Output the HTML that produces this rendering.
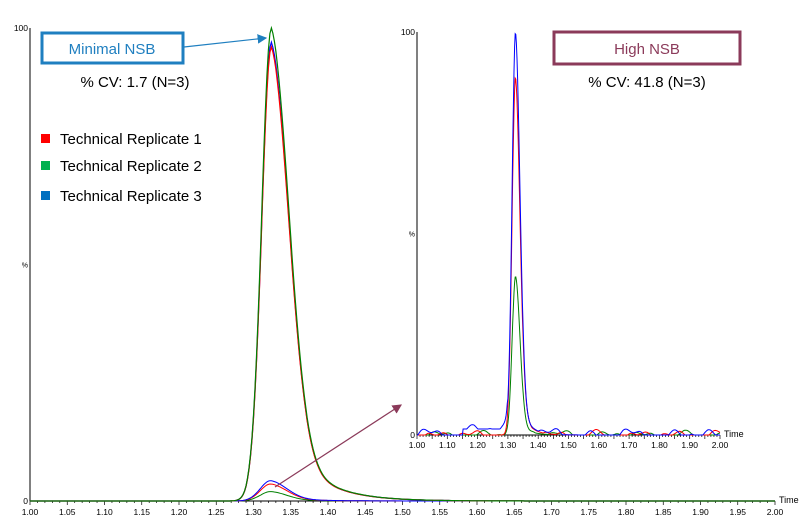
<!DOCTYPE html>
<html><head><meta charset="utf-8"><style>
body{margin:0;background:#fff;width:812px;height:524px;overflow:hidden;font-family:"Liberation Sans",sans-serif}
svg{position:absolute;left:0;top:0}
</style></head><body>
<svg id="s" width="812" height="524" xmlns="http://www.w3.org/2000/svg" font-family="Liberation Sans, sans-serif">
<defs>
<marker id="ab" markerWidth="8" markerHeight="8" refX="7" refY="4" orient="auto"><path d="M0,0 L8,4 L0,8 z" fill="#1f7fc0"/></marker>
<marker id="am" markerWidth="8" markerHeight="8" refX="7" refY="4" orient="auto"><path d="M0,0 L8,4 L0,8 z" fill="#8b3a5a"/></marker>
</defs>
<g id="g"></g>
<rect x="42" y="33" width="141" height="30" fill="#fff" stroke="#1f7fc0" stroke-width="3"/>
<text x="112" y="54" font-size="15" fill="#1f7fc0" text-anchor="middle">Minimal NSB</text>
<line x1="184" y1="47" x2="266" y2="38" stroke="#1f7fc0" stroke-width="1.2" marker-end="url(#ab)"/>
<text x="135" y="87" font-size="15" text-anchor="middle">% CV: 1.7 (N=3)</text>
<rect x="554" y="32" width="186" height="32" fill="#fff" stroke="#8b3a5a" stroke-width="3"/>
<text x="647" y="54" font-size="15" fill="#8b3a5a" text-anchor="middle">High NSB</text>
<text x="647" y="87" font-size="15" text-anchor="middle">% CV: 41.8 (N=3)</text>
<line x1="275" y1="487" x2="401" y2="405" stroke="#8b3a5a" stroke-width="1.2" marker-end="url(#am)"/>
<rect x="41" y="134" width="9" height="9" fill="#ff0000"/><text x="60" y="144" font-size="15">Technical Replicate 1</text>
<rect x="41" y="161" width="9" height="9" fill="#00b050"/><text x="60" y="171" font-size="15">Technical Replicate 2</text>
<rect x="41" y="191" width="9" height="9" fill="#0070c0"/><text x="60" y="201" font-size="15">Technical Replicate 3</text>
</svg>
<script>
var g=document.getElementById('g'),h='';
function pk(t,c,sl,sr,w,tau){var d=t-c;if(d<0)return Math.exp(-d*d/(2*sl*sl));return (1-w)*Math.exp(-d*d/(2*sr*sr))+w*Math.exp(-d/tau);}
function path(X0,XW,Y0,YH,f,col,wd){var p='';for(var i=0;i<=500;i++){var t=1+i/500;var v=f(t);p+=(i?'L':'M')+(X0+(t-1)*XW).toFixed(1)+','+(Y0-v/100*YH).toFixed(1);}h+='<path d="'+p+'" fill="none" stroke="'+col+'" stroke-width="'+(wd||1.2)+'"/>';}
function axes(X0,XW,Y0,YT,fs,ly,labStep){h+='<line x1="'+X0+'" y1="'+YT+'" x2="'+X0+'" y2="'+Y0+'" stroke="#000"/>';h+='<line x1="'+X0+'" y1="'+Y0+'" x2="'+(X0+XW)+'" y2="'+Y0+'" stroke="#000"/>';
for(var i=0;i<=100;i++){var x=X0+i/100*XW;var big=i%5==0;h+='<line x1="'+x+'" y1="'+Y0+'" x2="'+x+'" y2="'+(Y0+(big?4:2))+'" stroke="#000" stroke-width="0.7"/>';
if(i%labStep==0)h+='<text x="'+x+'" y="'+ly+'" font-size="'+fs+'" text-anchor="middle">'+(1+i/100).toFixed(2)+'</text>';}
h+='<text x="'+(X0-2)+'" y="'+(YT+3)+'" font-size="'+fs+'" text-anchor="end">100</text><text x="'+(X0-2)+'" y="'+(Y0+3)+'" font-size="'+fs+'" text-anchor="end">0</text><text x="'+(X0-2)+'" y="'+((YT+Y0)/2+3)+'" font-size="7" text-anchor="end">%</text><text x="'+(X0+XW+4)+'" y="'+(Y0+2)+'" font-size="9">Time</text>';}
var X0=30,XW=745,Y0=501,YH=473;
axes(X0,XW,Y0,28,8.5,515,5);
function m(a){return function(t){return a*pk(t,1.324,0.013,0.024,0.2,0.045)};}
function sm(a){return function(t){return a*pk(t,1.323,0.014,0.022,0.2,0.04)};}
path(X0,XW,Y0,YH,sm(2),'#008000',1);path(X0,XW,Y0,YH,sm(3.6),'#ff0000',1);path(X0,XW,Y0,YH,sm(4.3),'#0000ff',1);
path(X0,XW,Y0,YH,m(97),'#0000ff',1.2);path(X0,XW,Y0,YH,m(96),'#ff0000',1.2);path(X0,XW,Y0,YH,m(100),'#008000',1.2);
var I0=417,IW=303,IY=435,IH=403;
axes(I0,IW,IY,32,8.5,448,10);
function noise(t,s){var v=Math.sin(t*47+s)+0.7*Math.sin(t*113+2*s)+0.5*Math.sin(t*29+3*s);return Math.max(0,v*0.7);}
function n(a,s,b){return function(t){return a*pk(t,1.325,0.011,0.015,0.12,0.03)+noise(t,s)*b+(t>1.15&&t<1.3&&s==3?1.5:0)};}
path(I0,IW,IY,IH,n(39,1,0.8),'#008000',1);path(I0,IW,IY,IH,n(88,2,0.9),'#ff0000',1);path(I0,IW,IY,IH,n(100,3,1.2),'#0000ff',1);
g.innerHTML=h;
</script>
</body></html>
